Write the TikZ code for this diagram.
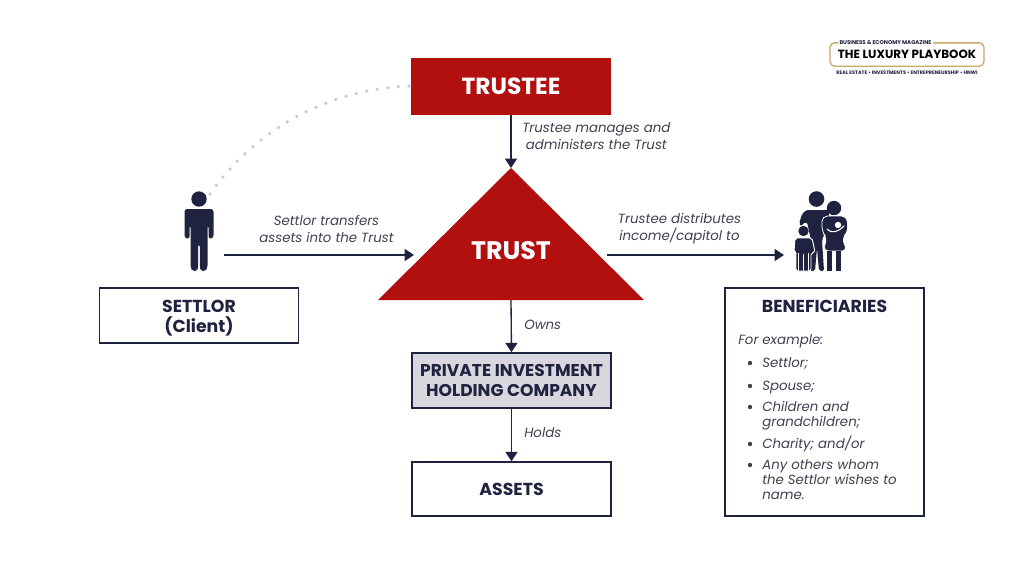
\documentclass[tikz,border=0pt]{standalone}
\usepackage{fontspec}
\setmainfont{Poppins}
\usepackage{tikz}
\usetikzlibrary{calc,arrows.meta,positioning}
\definecolor{navy}{HTML}{1F2340}
\definecolor{trustred}{HTML}{B20F0F}
\definecolor{softgray}{HTML}{3F4150}
\definecolor{gold}{HTML}{C9A96A}
\tikzset{
	whitebox/.style={draw=navy,line width=1.1pt,fill=white,minimum width=149pt,inner sep=0pt,align=center,text=navy},
	redbox/.style={fill=trustred,text=white},
	linkarrow/.style={navy,line width=1pt,-{Triangle[length=7pt,width=9pt]}},
	linklabel/.style={font=\fontsize{10}{12.6}\selectfont\itshape,text=softgray,align=center,inner sep=0pt},
	boxtitle/.style={font=\fontsize{13}{15}\selectfont\bfseries},
	person/.style={fill=navy,draw=none}
}
\begin{document}
\begin{tikzpicture}[x=0.75pt,y=-0.75pt]
	\useasboundingbox (0,0) rectangle (1024,576);
	\fill[white] (0,0) rectangle (1024,576);

	% boxes
	\node[redbox,minimum width=150pt,minimum height=42.5pt,inner sep=0pt,font=\fontsize{17.5}{20}\selectfont\bfseries] (trustee) at (511,86.5) {TRUSTEE};
	\coordinate (apex) at (511,168);
	\coordinate (baseL) at (378,300);
	\coordinate (baseR) at (644,300);
	\fill[trustred] (apex) -- (baseR) -- (baseL) -- cycle;
	\node[text=white,inner sep=0pt,font=\fontsize{19}{22}\selectfont\bfseries] (trust) at (511,251) {TRUST};
	\node[whitebox,minimum height=41pt] (settlor) at (199,315.5) {};
	\node[boxtitle,text=navy,inner sep=0pt,align=center] (settlorT) at (199,318) {SETTLOR\\(Client)};
	\node[whitebox,fill=navy!18,minimum height=41pt,line width=1.4pt,font=\fontsize{12.8}{15}\selectfont\bfseries] (company) at (511.5,380.5) {PRIVATE INVESTMENT\\HOLDING COMPANY};
	\node[whitebox,boxtitle,minimum height=40.5pt] (assets) at (511.5,489) {ASSETS};
	\node[whitebox,minimum height=171pt] (benef) at (824.5,402) {};
	\node[boxtitle,text=navy,inner sep=0pt] (benefT) at (824.5,306) {BENEFICIARIES};

	% list in the box
	\node[linklabel,anchor=base west] (forex) at (738,344) {For example:};
	\foreach \name/\ypos/\txt in {a/367/Settlor;,b/390/Spouse;,c/411/Children and,d/426/grandchildren;,e/448/{Charity; and/or},f/469/Any others whom,g/484/the Settlor wishes to,h/499/name.}
		\node[linklabel,anchor=base west] (item\name) at (762,\ypos) {\txt};
	\foreach \ypos in {363,386,407,444,465}
		\fill[softgray] (750,\ypos) circle (2.2);

	% arrows
	\coordinate (settlorR) at (224,255);
	\coordinate (triL) at (414,255);
	\coordinate (triR) at (607,255);
	\coordinate (famL) at (784,255);
	\coordinate (triB) at (511,300);
	\draw[linkarrow] (trustee.south) -- (apex);
	\draw[linkarrow] (settlorR) -- (triL);
	\draw[linkarrow] (triR) -- (famL);
	\draw[linkarrow] (triB) -- (company.north);
	\draw[linkarrow] (company.south) -- (assets.north);

	% labels
	\node[linklabel,anchor=west] (manage) at (522,136) {Trustee manages and\\administers the Trust};
	\node[linklabel] (transfer) at (326.5,229) {Settlor transfers\\assets into the Trust};
	\node[linklabel] (distrib) at (679.5,229) {Trustee distributes\\income/capitol to};
	\node[linklabel,anchor=west] (owns) at (524,325) {Owns};
	\node[linklabel,anchor=west] (holds) at (524,433) {Holds};

	% dotted arc
	\coordinate (dotA) at (210,194);
	\coordinate (dotB) at (411,86);
	\draw[black!20,line width=2.8pt,line cap=round,dash pattern=on 0pt off 8pt] (dotA) .. controls (258,125) and (335,88) .. (dotB);

	% settlor figure
	\fill[person] (199,199) circle (7.7);
	\fill[person,rounded corners=2pt] (184.5,209) -- (213.5,209) -- (213.5,238) -- (208.5,239) -- (208.5,225) -- (207.5,225) -- (207.5,268) -- (205,271) -- (201.5,271) -- (199.8,268) -- (199.8,244) -- (198.2,244) -- (198.2,268) -- (196.5,271) -- (193,271) -- (190.5,268) -- (190.5,225) -- (189.5,225) -- (189.5,239) -- (184.5,238) -- cycle;

	% family figure
	\fill[person] (816.5,199) circle (7.8);
	\fill[person,rounded corners=1.5pt] (806,210) -- (829,210) -- (829,222) -- (822,240) -- (824,271) -- (819,271) -- (817,248) -- (815,271) -- (810,271) -- (811,240) -- (807,222) -- (802,224) -- (801,226) -- (799,224) -- (802,214) -- cycle;
	\fill[person] (834,208) circle (7.2);
	\draw[person,draw=white,line width=.6pt,rounded corners=4pt] (822,216) -- (847,216) -- (848,232) -- (842,238) -- (847,251) -- (823,251) -- (827,238) -- (822,232) -- cycle;
	\fill[person] (827,251) rectangle (832,271);
	\fill[person] (836,251) rectangle (841,271);
	\fill[white] (838,225) circle (3.2);
	\draw[white,line width=.8pt,line cap=round] (827,229) .. controls (832,234) and (838,232) .. (844,226);
	\fill[person] (803.5,231) circle (5.2);
	\draw[white,line width=.7pt,fill=navy,rounded corners=1.5pt] (795,238) -- (812,238) -- (815,252) -- (811,253) -- (811,271) -- (796,271) -- (796,253) -- (794,252) -- cycle;
	\fill[white] (802.8,254) rectangle (804.2,271);
	\fill[white] (798,253) rectangle (799,271);
	\fill[white] (808,253) rectangle (809,271);

	% logo
	\node[draw=gold,line width=1pt,rounded corners=3.5pt,minimum width=115.5pt,minimum height=17.5pt,inner sep=0pt,text=black,font=\fontsize{8.9}{10}\selectfont\bfseries] (logo) at (907,54.5) {THE LUXURY PLAYBOOK};
	\node[fill=white,inner xsep=1pt,inner ysep=0.5pt,text=navy,font=\fontsize{4.1}{4.5}\selectfont\bfseries] (logotop) at (885.5,43) {BUSINESS \& ECONOMY MAGAZINE};
	\node[inner sep=0pt,text=navy,font=\fontsize{3.7}{4.5}\selectfont\bfseries] (logobot) at (907,73) {REAL ESTATE • INVESTMENTS • ENTREPRENEURSHIP • HNWI};
\end{tikzpicture}
\end{document}
